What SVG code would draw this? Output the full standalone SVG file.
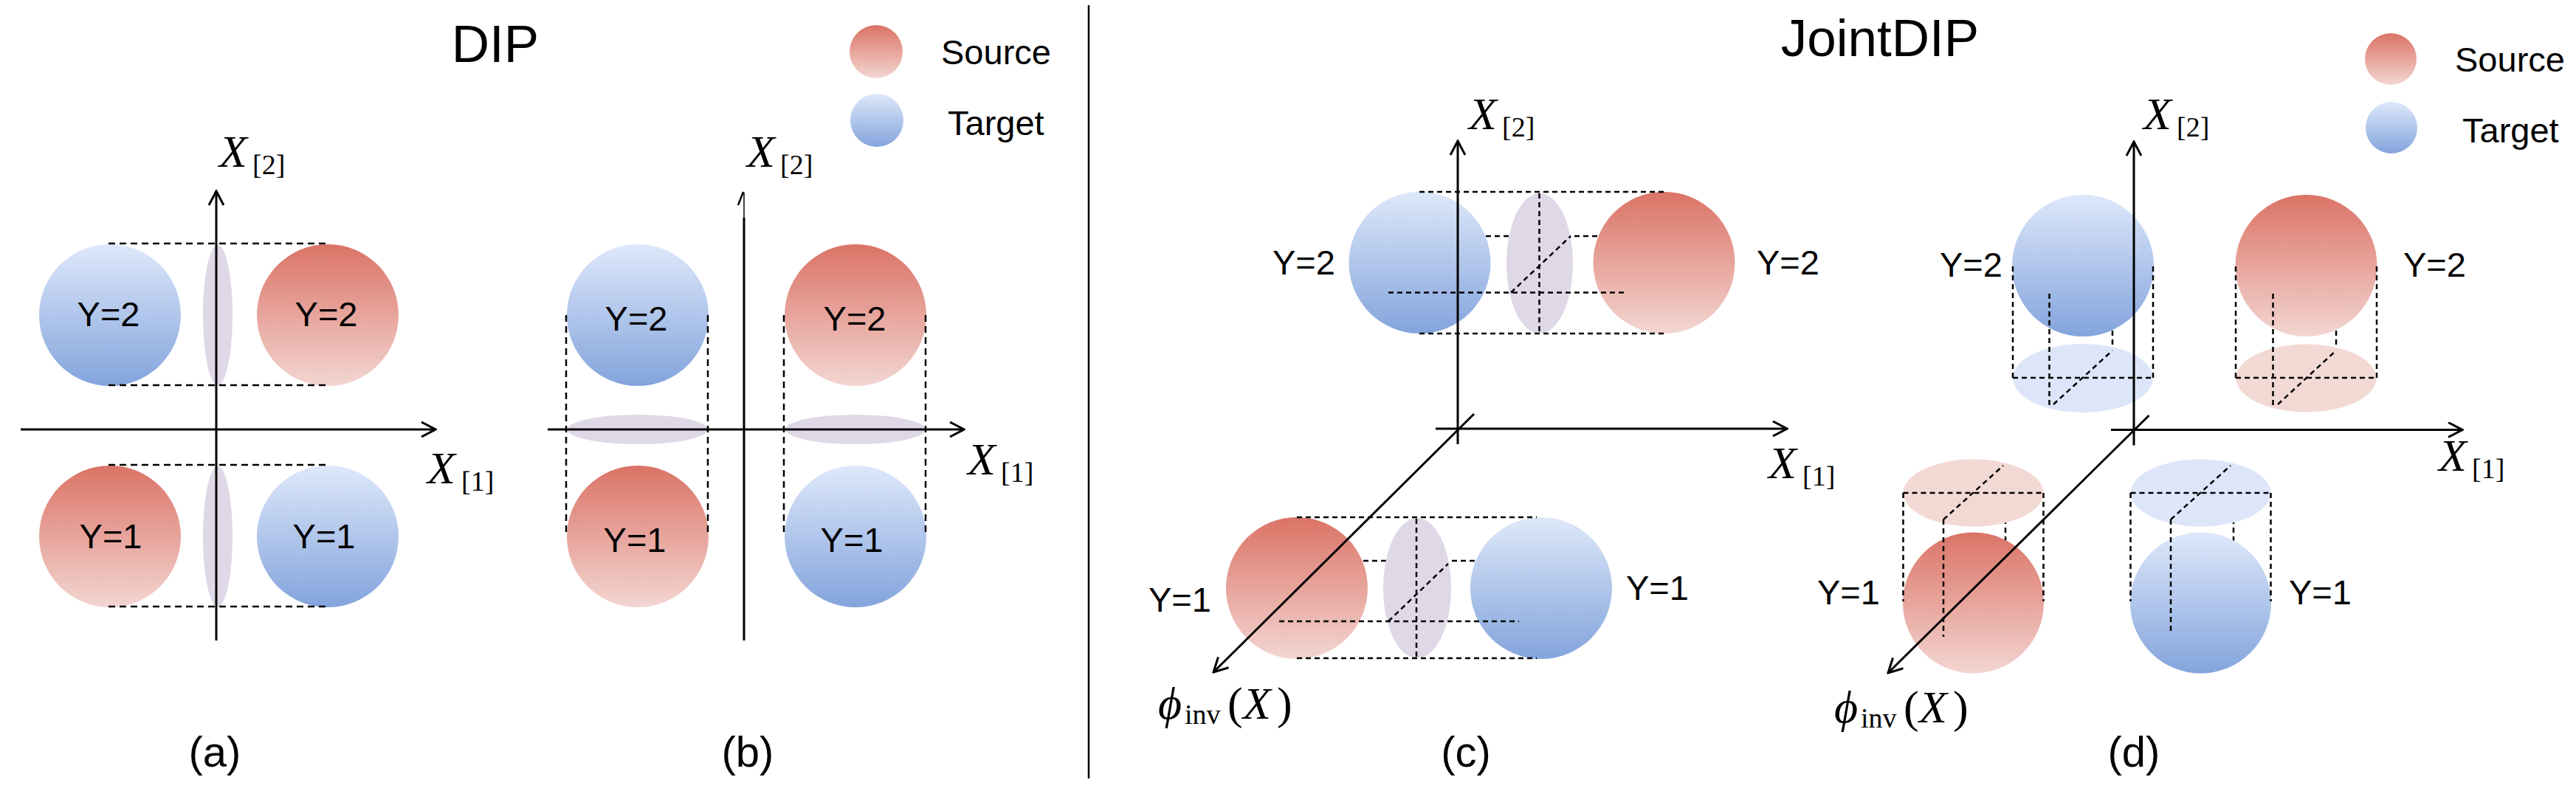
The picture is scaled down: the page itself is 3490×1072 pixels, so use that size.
<svg xmlns="http://www.w3.org/2000/svg" width="3490" height="1072" viewBox="0 0 3490 1072">
<defs>
<linearGradient id="gRed" x1="0" y1="0" x2="0" y2="1"><stop offset="0" stop-color="#db7366"/><stop offset="1" stop-color="#f3d6d2"/></linearGradient>
<linearGradient id="gBlue" x1="0" y1="0" x2="0" y2="1"><stop offset="0" stop-color="#dee8fa"/><stop offset="1" stop-color="#83a4dc"/></linearGradient>
<marker id="arr" viewBox="0 0 22 22" refX="20" refY="11" markerWidth="22" markerHeight="22" markerUnits="userSpaceOnUse" orient="auto"><path d="M1,1 L20,11 L1,21" fill="none" stroke="#000" stroke-width="3"/></marker>
</defs>
<style>
.red{fill:url(#gRed)}
.blue{fill:url(#gBlue)}
.pur{fill:#dfd8e7}
.lred{fill:#f3d9d4}
.lblue{fill:#dde6f9}
.axis{stroke:#000;stroke-width:3;fill:none}
.ax{stroke:#000;stroke-width:3;fill:none;marker-end:url(#arr)}
.d1{stroke:#000;stroke-width:2.5;stroke-dasharray:9 6;fill:none}
.d2{stroke:#000;stroke-width:2.5;stroke-dasharray:7 5;fill:none}
.lab{font-family:"Liberation Sans",Arial,sans-serif;font-size:47px;fill:#000}
.ttl{font-family:"Liberation Sans",Arial,sans-serif;font-size:71px;fill:#000;text-anchor:middle}
.cap{font-family:"Liberation Sans",Arial,sans-serif;font-size:58px;fill:#000;text-anchor:middle}
.math{font-family:"Liberation Serif","Times New Roman",serif;font-size:62px;fill:#000}
.mi{font-style:italic}
.sub{font-size:38px;font-style:normal}
</style>
<rect x="0" y="0" width="3490" height="1072" fill="#fff"/>

<g id="titles">
<text class="ttl" x="671" y="84">DIP</text>
<text class="ttl" x="2547" y="76">JointDIP</text>
</g>
<g id="divider"><line x1="1475" y1="7" x2="1475" y2="1055" stroke="#000" stroke-width="2.5"/></g>

<g id="legend-dip">
<circle class="red" cx="1187" cy="70" r="36"/>
<circle class="blue" cx="1188" cy="163" r="36"/>
<text class="lab" x="1275" y="87">Source</text>
<text class="lab" x="1284" y="183">Target</text>
</g>
<g id="legend-jointdip">
<circle class="red" cx="3239" cy="80" r="35"/>
<circle class="blue" cx="3240" cy="173" r="35"/>
<text class="lab" x="3326" y="97">Source</text>
<text class="lab" x="3336" y="193">Target</text>
</g>

<!-- Panel (a) -->
<g id="panel-a">
<g id="a-nodes">
<circle id="a-t2" class="blue" cx="149" cy="427" r="96"/>
<circle id="a-s2" class="red" cx="444" cy="427" r="96"/>
<ellipse id="a-p2" class="pur" cx="295" cy="427" rx="20" ry="95"/>
<circle id="a-s1" class="red" cx="149" cy="727" r="96"/>
<circle id="a-t1" class="blue" cx="444" cy="727" r="96"/>
<ellipse id="a-p1" class="pur" cx="295" cy="727" rx="20" ry="95"/>
</g>
<g id="a-connectors">
<line class="d1" x1="147" y1="330" x2="443" y2="330"/>
<line class="d1" x1="147" y1="522" x2="443" y2="522"/>
<line class="d1" x1="147" y1="630" x2="443" y2="630"/>
<line class="d1" x1="147" y1="822" x2="443" y2="822"/>
<line class="ax" x1="28" y1="582" x2="590" y2="582"/>
<line class="ax" x1="293" y1="868" x2="293" y2="259"/>
</g>
<text class="lab" x="147" y="442" text-anchor="middle">Y=2</text>
<text class="lab" x="442" y="442" text-anchor="middle">Y=2</text>
<text class="lab" x="150" y="743" text-anchor="middle">Y=1</text>
<text class="lab" x="439" y="743" text-anchor="middle">Y=1</text>
<text class="math" x="297" y="226"><tspan class="mi">X</tspan><tspan class="sub" x="342" dy="10">[2]</tspan></text>
<text class="math" x="579" y="655"><tspan class="mi">X</tspan><tspan class="sub" x="625" dy="10">[1]</tspan></text>
<text class="cap" x="291" y="1039">(a)</text>
</g>

<!-- Panel (b) -->
<g id="panel-b">
<g id="b-nodes">
<ellipse id="b-p2" class="pur" cx="864" cy="582" rx="95" ry="20"/>
<ellipse id="b-p1" class="pur" cx="1159" cy="582" rx="95" ry="20"/>
<circle id="b-t2" class="blue" cx="864" cy="427" r="96"/>
<circle id="b-s2" class="red" cx="1159" cy="427" r="96"/>
<circle id="b-s1" class="red" cx="864" cy="727" r="96"/>
<circle id="b-t1" class="blue" cx="1159" cy="727" r="96"/>
</g>
<g id="b-connectors">
<line class="d1" x1="767" y1="427" x2="767" y2="721"/>
<line class="d1" x1="959" y1="427" x2="959" y2="721"/>
<line class="d1" x1="1062" y1="427" x2="1062" y2="721"/>
<line class="d1" x1="1254" y1="427" x2="1254" y2="721"/>
<line class="ax" x1="742" y1="582" x2="1306" y2="582"/>
<line class="axis" x1="1008" y1="868" x2="1008" y2="295"/>
<line x1="1008" y1="295" x2="1008" y2="261" stroke="#000" stroke-width="1.5"/>
<line x1="1000" y1="278" x2="1007" y2="260" stroke="#000" stroke-width="2.5"/>
</g>
<text class="lab" x="862" y="448" text-anchor="middle">Y=2</text>
<text class="lab" x="1158" y="448" text-anchor="middle">Y=2</text>
<text class="lab" x="860" y="748" text-anchor="middle">Y=1</text>
<text class="lab" x="1154" y="748" text-anchor="middle">Y=1</text>
<text class="math" x="1012" y="226"><tspan class="mi">X</tspan><tspan class="sub" x="1057" dy="10">[2]</tspan></text>
<text class="math" x="1311" y="643"><tspan class="mi">X</tspan><tspan class="sub" x="1356" dy="10">[1]</tspan></text>
<text class="cap" x="1013" y="1039">(b)</text>
</g>

<!-- Panel (c) -->
<g id="panel-c">
<g id="c-back">
<line class="d2" x1="1965" y1="320" x2="2297" y2="320"/>
<line class="d2" x1="1799" y1="760" x2="2130" y2="760"/>
</g>
<g id="c-nodes">
<circle id="c-t2" class="blue" cx="1923.5" cy="356" r="96"/>
<circle id="c-s2" class="red" cx="2254.5" cy="356" r="96"/>
<ellipse id="c-p2" class="pur" cx="2086" cy="357" rx="45" ry="95"/>
<circle id="c-s1" class="red" cx="1757" cy="797" r="96"/>
<circle id="c-t1" class="blue" cx="2088" cy="797" r="96"/>
<ellipse id="c-p1" class="pur" cx="1920" cy="797" rx="46" ry="95"/>
</g>
<g id="c-connectors">
<line class="d2" x1="1923" y1="260" x2="2256" y2="260"/>
<line class="d2" x1="1923" y1="452" x2="2256" y2="452"/>
<line class="d2" x1="1881" y1="396.5" x2="2205" y2="396.5"/>
<line class="d2" x1="2085.5" y1="262" x2="2085.5" y2="454"/>
<line class="d2" x1="2047" y1="396.5" x2="2128" y2="320"/>
<line class="d2" x1="1757" y1="701" x2="2082" y2="701"/>
<line class="d2" x1="1757" y1="892" x2="2082" y2="892"/>
<line class="d2" x1="1733" y1="842" x2="2058" y2="842"/>
<line class="d2" x1="1919" y1="703" x2="1919" y2="893"/>
<line class="d2" x1="1881" y1="842" x2="1962" y2="764"/>
<line class="ax" x1="1945" y1="581" x2="2421" y2="581"/>
<line class="ax" x1="1975" y1="602" x2="1975" y2="191"/>
<line class="ax" x1="1997" y1="561" x2="1644" y2="911"/>
</g>
<text class="lab" x="1724" y="372">Y=2</text>
<text class="lab" x="2380" y="372">Y=2</text>
<text class="lab" x="1556" y="829">Y=1</text>
<text class="lab" x="2203" y="813">Y=1</text>
<text class="math" x="1990" y="175"><tspan class="mi">X</tspan><tspan class="sub" x="2035" dy="10">[2]</tspan></text>
<text class="math" x="2396" y="648"><tspan class="mi">X</tspan><tspan class="sub" x="2442" dy="10">[1]</tspan></text>
<text class="math" x="1569" y="974"><tspan class="mi">ϕ</tspan><tspan class="sub" x="1605" dy="7">inv</tspan><tspan x="1663" dy="-7">(</tspan><tspan class="mi" x="1684">X</tspan><tspan x="1730">)</tspan></text>
<text class="cap" x="1986" y="1039">(c)</text>
</g>

<!-- Panel (d) -->
<g id="panel-d">
<g id="d-back">
<line class="d2" x1="2862" y1="400" x2="2862" y2="474"/>
<line class="d2" x1="3165" y1="400" x2="3165" y2="474"/>
<line class="d2" x1="2717" y1="631" x2="2717" y2="760"/>
<line class="d2" x1="3026" y1="631" x2="3026" y2="760"/>
</g>
<g id="d-nodes">
<ellipse id="d-t2-proj" class="lblue" cx="2822" cy="512.5" rx="95" ry="46.5"/>
<circle id="d-t2" class="blue" cx="2822" cy="360" r="96"/>
<ellipse id="d-s2-proj" class="lred" cx="3124.5" cy="512.5" rx="95" ry="46"/>
<circle id="d-s2" class="red" cx="3124.5" cy="360" r="96"/>
<ellipse id="d-s1-proj" class="lred" cx="2673.5" cy="668" rx="95" ry="45.5"/>
<circle id="d-s1" class="red" cx="2673.5" cy="817" r="95.5"/>
<ellipse id="d-t1-proj" class="lblue" cx="2981.5" cy="668" rx="95" ry="45.5"/>
<circle id="d-t1" class="blue" cx="2981.5" cy="817" r="95.5"/>
</g>
<g id="d-connectors">
<line class="d2" x1="2727" y1="361" x2="2727" y2="512"/>
<line class="d2" x1="2917" y1="361" x2="2917" y2="512"/>
<line class="d2" x1="2727" y1="512" x2="2917" y2="512"/>
<line class="d2" x1="2776.5" y1="398" x2="2776.5" y2="549"/>
<line class="d2" x1="2782" y1="548" x2="2862" y2="475"/>
<line class="d2" x1="3029" y1="361" x2="3029" y2="512"/>
<line class="d2" x1="3220" y1="361" x2="3220" y2="512"/>
<line class="d2" x1="3029" y1="512" x2="3220" y2="512"/>
<line class="d2" x1="3079.5" y1="398" x2="3079.5" y2="550"/>
<line class="d2" x1="3086" y1="548" x2="3165" y2="475"/>
<line class="d2" x1="2578.5" y1="668" x2="2768.5" y2="668"/>
<line class="d2" x1="2578.5" y1="668" x2="2578.5" y2="815"/>
<line class="d2" x1="2768.5" y1="668" x2="2768.5" y2="815"/>
<line class="d2" x1="2633" y1="704" x2="2633" y2="863"/>
<line class="d2" x1="2633" y1="704" x2="2714" y2="631"/>
<line class="d2" x1="2886.5" y1="668" x2="3076.5" y2="668"/>
<line class="d2" x1="2886.5" y1="668" x2="2886.5" y2="815"/>
<line class="d2" x1="3076.5" y1="668" x2="3076.5" y2="815"/>
<line class="d2" x1="2941" y1="704" x2="2941" y2="855"/>
<line class="d2" x1="2941" y1="704" x2="3022" y2="631"/>
<line class="ax" x1="2860" y1="582.5" x2="3336" y2="582.5"/>
<line class="ax" x1="2891" y1="603.5" x2="2891" y2="192"/>
<line class="ax" x1="2911.5" y1="563" x2="2558" y2="912"/>
</g>
<text class="lab" x="2628" y="375">Y=2</text>
<text class="lab" x="3256" y="375">Y=2</text>
<text class="lab" x="2462" y="819">Y=1</text>
<text class="lab" x="3101" y="819">Y=1</text>
<text class="math" x="2904" y="175"><tspan class="mi">X</tspan><tspan class="sub" x="2949" dy="10">[2]</tspan></text>
<text class="math" x="3304" y="638"><tspan class="mi">X</tspan><tspan class="sub" x="3349" dy="10">[1]</tspan></text>
<text class="math" x="2485" y="979"><tspan class="mi">ϕ</tspan><tspan class="sub" x="2521" dy="7">inv</tspan><tspan x="2579" dy="-7">(</tspan><tspan class="mi" x="2600">X</tspan><tspan x="2646">)</tspan></text>
<text class="cap" x="2891" y="1039">(d)</text>
</g>
</svg>
